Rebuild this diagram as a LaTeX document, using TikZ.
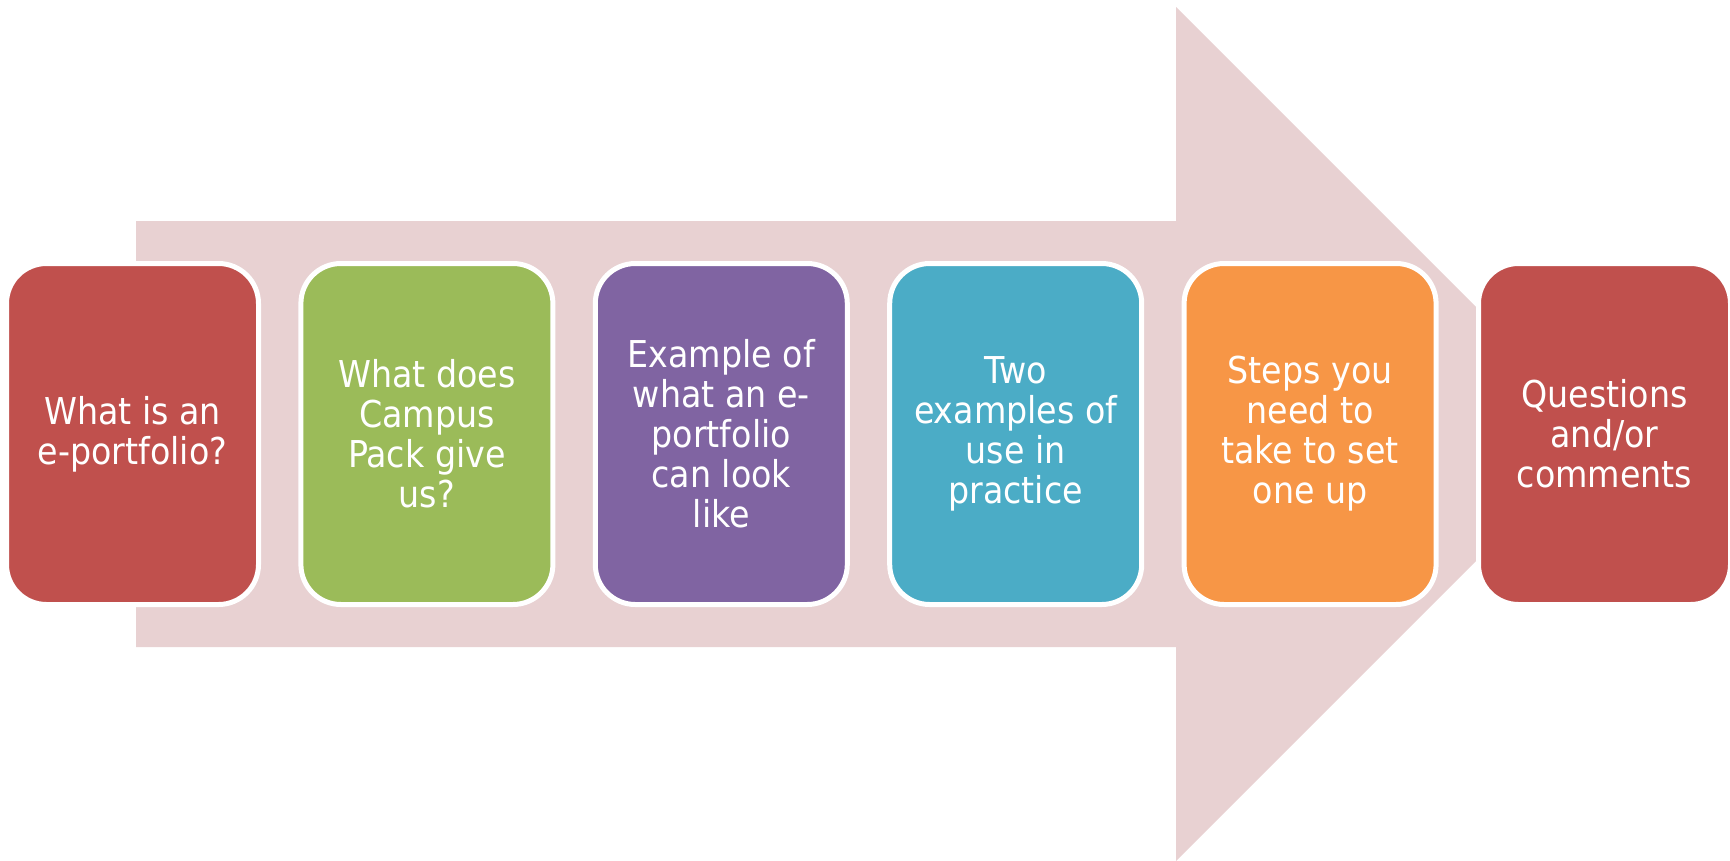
\documentclass[tikz,border=0pt]{standalone}
\usepackage{fontspec}
\newfontfamily\boxfont{DejaVu Sans Condensed}
\definecolor{arrowpink}{HTML}{E8D1D2}
\definecolor{cred}{HTML}{C0504D}
\definecolor{cgreen}{HTML}{9BBB59}
\definecolor{cpurple}{HTML}{8064A2}
\definecolor{cteal}{HTML}{4BACC6}
\definecolor{corange}{HTML}{F79646}
\tikzset{
  stepbox/.style={rectangle, rounded corners=40pt, minimum width=252pt, minimum height=341pt,
    draw=white, line width=5pt, text=white, align=center, inner sep=0pt,
    font=\boxfont\fontsize{37}{40}\selectfont},
  bigarrow/.style={fill=arrowpink}
}
\begin{document}
\begin{tikzpicture}[x=1pt,y=-1pt]
\useasboundingbox (0,0) rectangle (1730,860);
\fill[bigarrow] (136,221) -- (1176,221) -- (1176,7) -- (1476,307) -- (1476,561)
  -- (1176,861) -- (1176,647) -- (136,647) -- cycle;
\node[stepbox, fill=cred] (b1) at (132.5,434) {What is an\\e-portfolio?};
\node[stepbox, fill=cgreen] (b2) at (426.9,434) {What does\\Campus\\Pack give\\us?};
\node[stepbox, fill=cpurple] (b3) at (721.3,434) {Example of\\what an e-\\portfolio\\can look\\like};
\node[stepbox, fill=cteal] (b4) at (1015.7,434) {Two\\examples of\\use in\\practice};
\node[stepbox, fill=corange] (b5) at (1310.1,434) {Steps you\\need to\\take to set\\one up};
\node[stepbox, fill=cred] (b6) at (1604.5,434) {Questions\\and/or\\comments};
\end{tikzpicture}
\end{document}
